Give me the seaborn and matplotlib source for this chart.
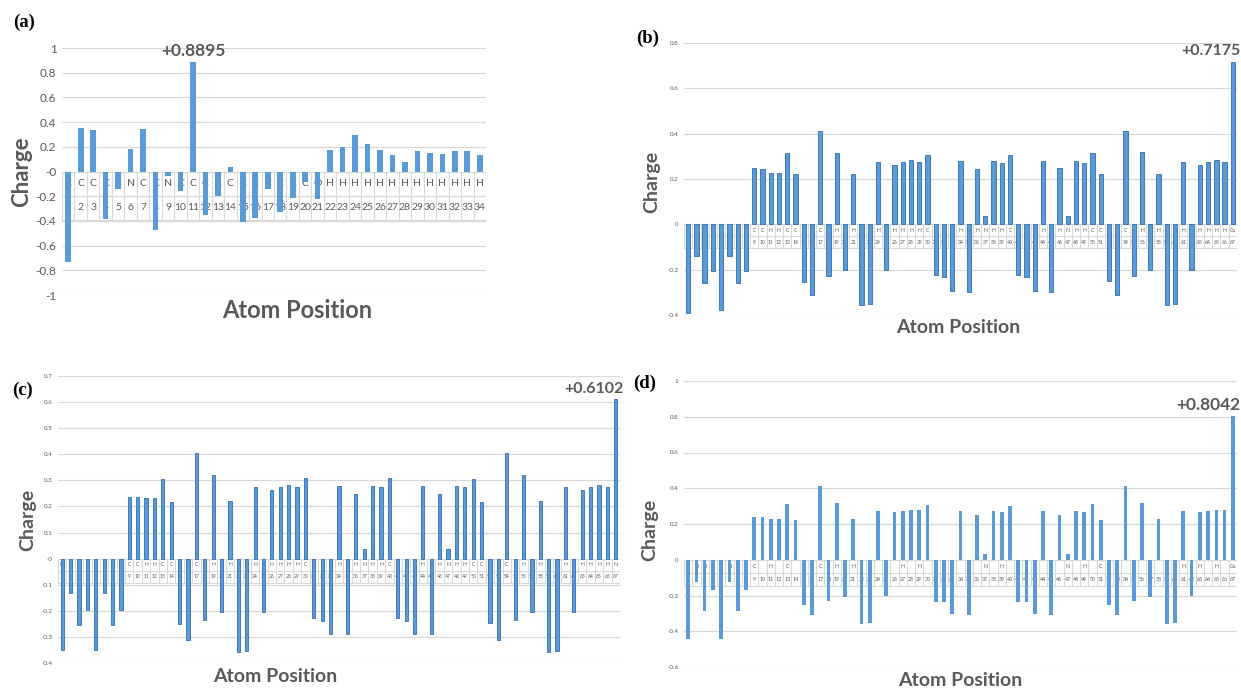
"""
Atomic charge distribution for the ligand (a) and its Cu, Ni and Co complexes (b-d).
"""

import matplotlib

matplotlib.use("Agg")

import matplotlib.pyplot as plt
import numpy as np
import seaborn as sns

W, H = 1241, 689
GRAY = "#595959"
GRID = "#D9D9D9"
BLUE = "#5B9BD5"

# ---- panel (a): free ligand, 34 atoms ----
SYMBOLS_A = ["C", "C", "C", "C", "N", "N", "C", "C", "N", "C", "C", "C", "C", "C",
             "C", "C", "C", "C", "C", "C", "O"] + ["H"] * 13
CHARGE_A = [-0.73, 0.35, 0.334, -0.385, -0.143, 0.183, 0.342, -0.47, -0.04, -0.156,
            0.8895, -0.35, -0.197, 0.038, -0.41, -0.377, -0.143, -0.33, -0.215,
            -0.083, -0.226, 0.178, 0.2, 0.296, 0.226, 0.178, 0.13, 0.08, 0.167,
            0.148, 0.14, 0.167, 0.17, 0.13]

# ---- complexes, 67 atoms (last one is the metal) ----
SYMBOLS_COMPLEX = ["O", "N", "N", "C", "O", "N", "N", "C", "C", "C", "H", "H", "C",
                   "C", "C", "C", "C", "C", "H", "C", "H", "C", "C", "H", "C", "H",
                   "H", "H", "H", "C", "C", "C", "C", "H", "C", "H", "N", "H", "H",
                   "C", "C", "C", "C", "H", "C", "H", "N", "H", "H", "C", "C", "C",
                   "C", "C", "C", "H", "C", "H", "C", "C", "H", "C", "H", "H", "H",
                   "H"]
METAL_B, METAL_C, METAL_D = "Cu", "Ni", "Co"

CHARGE_B = [-0.39, -0.14, -0.26, -0.205, -0.38, -0.14, -0.26, -0.205, 0.247, 0.244,
            0.225, 0.225, 0.316, 0.222, -0.253, -0.31, 0.41, -0.23, 0.316, -0.2,
            0.222, -0.357, -0.352, 0.275, -0.2, 0.263, 0.276, 0.282, 0.276, 0.307,
            -0.224, -0.234, -0.294, 0.278, -0.298, 0.246, 0.037, 0.278, 0.272,
            0.308, -0.224, -0.234, -0.294, 0.278, -0.3, 0.248, 0.037, 0.278, 0.272,
            0.314, 0.222, -0.25, -0.31, 0.41, -0.23, 0.317, -0.203, 0.222, -0.357,
            -0.352, 0.275, -0.2, 0.263, 0.276, 0.282, 0.276, 0.7175]

CHARGE_C = [-0.35, -0.133, -0.253, -0.196, -0.35, -0.133, -0.253, -0.196, 0.236,
            0.236, 0.231, 0.231, 0.304, 0.218, -0.25, -0.313, 0.406, -0.234, 0.32,
            -0.203, 0.222, -0.357, -0.355, 0.275, -0.203, 0.262, 0.276, 0.281,
            0.276, 0.308, -0.226, -0.238, -0.288, 0.279, -0.289, 0.248, 0.038,
            0.279, 0.274, 0.308, -0.226, -0.238, -0.288, 0.279, -0.289, 0.248,
            0.038, 0.279, 0.274, 0.304, 0.218, -0.248, -0.312, 0.406, -0.234, 0.32,
            -0.203, 0.222, -0.357, -0.355, 0.275, -0.203, 0.262, 0.276, 0.281,
            0.276, 0.6102]

CHARGE_D = [-0.442, -0.126, -0.284, -0.167, -0.442, -0.126, -0.284, -0.167, 0.24,
            0.24, 0.229, 0.229, 0.314, 0.223, -0.255, -0.309, 0.41, -0.232, 0.316,
            -0.206, 0.229, -0.359, -0.355, 0.271, -0.2, 0.266, 0.271, 0.281, 0.277,
            0.305, -0.238, -0.238, -0.305, 0.27, -0.309, 0.249, 0.033, 0.27, 0.266,
            0.303, -0.238, -0.238, -0.305, 0.27, -0.309, 0.249, 0.033, 0.27, 0.266,
            0.314, 0.223, -0.255, -0.309, 0.41, -0.232, 0.316, -0.206, 0.229,
            -0.359, -0.355, 0.271, -0.2, 0.266, 0.271, 0.281, 0.277, 0.8042]


def px_rect(left, top, right, bottom):
    return [left / W, 1 - bottom / H, (right - left) / W, (bottom - top) / H]


def fig_text(fig, x, y, s, **kw):
    fig.text(x / W, 1 - y / H, s, **kw)


def draw_panel(fig, rect, charges, symbols, yticks, bar_w, row_px, tick_fs,
               lab_fs, peak_idx, peak_ha, peak_fs, sym_step=1, edge=None):
    ax = fig.add_axes(rect)
    n = len(charges)
    x = np.arange(1, n + 1)
    sns.barplot(x=x, y=charges, color=BLUE, saturation=1, width=bar_w, ax=ax,
                edgecolor=edge, linewidth=0.6 if edge else 0)
    for p in ax.patches:
        p.set_zorder(3)

    ymin, ymax = yticks[0], yticks[-1]
    ax.set_ylim(ymin, ymax)
    ax.set_xlim(-0.5, n - 0.5)
    ax.set_yticks(yticks)
    ax.set_yticklabels([f"{v:g}" for v in yticks], fontsize=tick_fs, color=GRAY)
    ax.tick_params(axis="y", length=0, pad=4)
    ax.set_xticks([])
    ax.set_xlabel("")
    for s in ax.spines.values():
        s.set_visible(False)
    for v in yticks:
        ax.axhline(v, color=GRID, lw=0.9, zorder=0)

    # data table under the zero line (atom symbol / atom number)
    ax_h = rect[3] * H
    row = row_px / (ax_h / (ymax - ymin))
    for y in (-row, -2 * row):
        ax.plot([-0.5, n - 0.5], [y, y], color=GRID, lw=0.8, zorder=1)
    for i in range(n + 1):
        ax.plot([i - 0.5, i - 0.5], [0, -2 * row], color=GRID, lw=0.8, zorder=1)
    for i, sym in enumerate(symbols):
        if i < 8 or i % sym_step == 0 or i == n - 1:
            ax.text(i, -0.5 * row, sym, ha="center", va="center", fontsize=lab_fs,
                    color=GRAY, zorder=2)
        ax.text(i, -1.5 * row, str(i + 1), ha="center", va="center",
                fontsize=lab_fs, color=GRAY, zorder=2)

    q = charges[peak_idx]
    xt = peak_idx if peak_ha == "center" else peak_idx + 0.9
    ax.text(xt, q + 0.012 * (ymax - ymin), f"+{q:.4f}", ha=peak_ha, va="bottom",
            fontsize=peak_fs, fontweight="bold", color=GRAY, clip_on=False, zorder=4)
    return ax


def main() -> None:
    sns.set_style("white")
    plt.rcParams["font.family"] = ["Lato", "DejaVu Sans"]
    fig = plt.figure(figsize=(W / 100, H / 100), dpi=100)

    syms_b = SYMBOLS_COMPLEX + [METAL_B]
    syms_c = SYMBOLS_COMPLEX + [METAL_C]
    syms_d = SYMBOLS_COMPLEX + [METAL_D]

    draw_panel(fig, px_rect(62, 48, 486, 295), CHARGE_A, SYMBOLS_A,
               np.round(np.arange(-1, 1.01, 0.2), 1), 0.45, 24, 8.5, 7.5, 10,
               "center", 12.5)
    draw_panel(fig, px_rect(684, 43, 1237, 315), CHARGE_B, syms_b,
               np.round(np.arange(-0.4, 0.81, 0.2), 1), 0.52, 12, 4.5, 3.6, 66,
               "right", 11.5, edge="#2F6EB0")
    draw_panel(fig, px_rect(58, 376, 620, 663), CHARGE_C, syms_c,
               np.round(np.arange(-0.4, 0.71, 0.1), 1), 0.38, 12, 4.5, 3.6, 66,
               "right", 11.5, edge="#2F6EB0")
    draw_panel(fig, px_rect(684, 381, 1237, 667), CHARGE_D, syms_d,
               np.round(np.arange(-0.6, 1.01, 0.2), 1), 0.45, 13, 4.5, 3.8, 66,
               "right", 12.5, sym_step=2)

    title_kw = dict(fontweight="bold", color=GRAY, ha="center", va="center")
    for x, y, fs in [(297, 310, 17), (958, 327, 14), (275, 676, 14), (960, 680, 14)]:
        fig_text(fig, x, y, "Atom Position", fontsize=fs, **title_kw)
    for x, y, fs in [(22, 172, 16), (652, 182, 14), (28, 520, 14), (650, 530, 14)]:
        fig_text(fig, x, y, "Charge", rotation=90, fontsize=fs, **title_kw)

    letter_kw = dict(fontsize=13.5, fontweight="bold", family="Liberation Serif",
                     color="black", ha="left", va="center")
    for x, y, s in [(13, 22, "(a)"), (636, 38, "(b)"), (12, 390, "(c)"),
                    (633, 383, "(d)")]:
        fig_text(fig, x, y, s, **letter_kw)

    fig.savefig("out.png", dpi=100)
    plt.close(fig)


if __name__ == "__main__":
    main()
